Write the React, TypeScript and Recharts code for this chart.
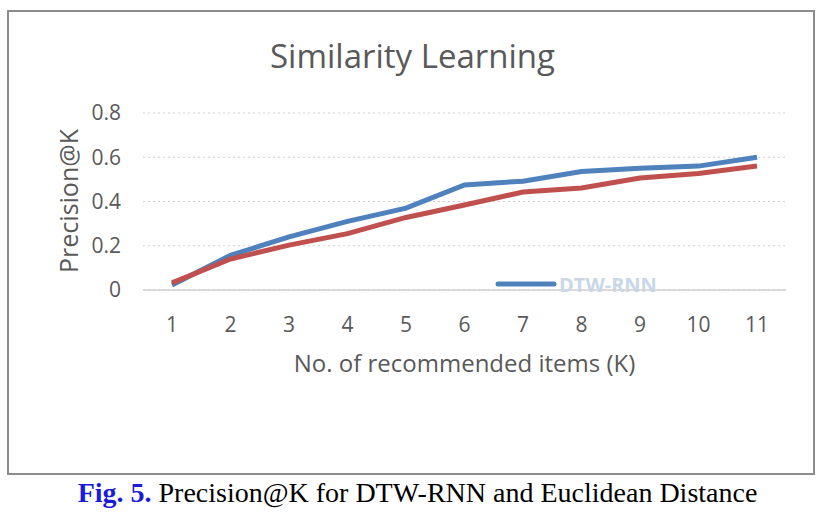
import React from 'react'
import { CartesianGrid, Line, LineChart, ReferenceLine, XAxis, YAxis } from 'recharts'

// Precision@K, K = 1..11
const kValues = [1, 2, 3, 4, 5, 6, 7, 8, 9, 10, 11]
const dtwRnn = [0.023, 0.157, 0.24, 0.31, 0.37, 0.475, 0.492, 0.536, 0.55, 0.56, 0.6]
const euclidean = [0.032, 0.14, 0.203, 0.255, 0.328, 0.384, 0.443, 0.461, 0.506, 0.527, 0.56]
const yTicks = [0, 0.2, 0.4, 0.6, 0.8]

const data = kValues.map((k, i) => ({ k, dtw: dtwRnn[i], euc: euclidean[i] }))

const grey = '#595959'
const font = '"Open Sans", sans-serif'

export default function App() {
  return (
    <div style={{ position: 'absolute', left: 0, top: 0, width: 837, height: 514, background: '#fff' }}>
      <div
        style={{
          position: 'absolute', left: 7, top: 10, width: 808, height: 465,
          border: '2px solid #8c8c8c', boxSizing: 'border-box',
        }}
      />
      <div
        style={{
          position: 'absolute', left: 0, width: 825, top: 33, textAlign: 'center',
          fontFamily: font, fontSize: 33, color: grey,
        }}
      >
        Similarity Learning
      </div>
      <LineChart
        width={837}
        height={514}
        data={data}
        margin={{ top: 113, right: 51, bottom: 194, left: 83 }}
        style={{ position: 'absolute', left: 0, top: 0 }}
      >
        <CartesianGrid vertical={false} stroke="#d0d0d0" strokeDasharray="2 3" />
        <XAxis
          dataKey="k"
          height={30}
          axisLine={false}
          tickLine={false}
          tickSize={0}
          tickMargin={27}
          padding={{ left: 29, right: 29 }}
          tick={{ fill: grey, fontSize: 21, fontFamily: font }}
          interval={0}
        />
        <YAxis
          width={60}
          domain={[0, 0.8]}
          ticks={yTicks}
          axisLine={false}
          tickLine={false}
          tickSize={0}
          tickMargin={22}
          tick={{ fill: grey, fontSize: 21, fontFamily: font }}
        />
        <ReferenceLine y={0} stroke="#d0d0d0" strokeWidth={1.5} />
        <Line dataKey="dtw" name="DTW-RNN" stroke="#4f81bd" strokeWidth={5} dot={false} isAnimationActive={false} />
        <Line dataKey="euc" name="Euclidean Distance" stroke="#c0504d" strokeWidth={5} dot={false} isAnimationActive={false} />
      </LineChart>
      <div style={{ position: 'absolute', left: 495, top: 270, display: 'flex', alignItems: 'center', height: 28 }}>
        <svg width={62} height={10}>
          <line x1={3} y1={5} x2={59} y2={5} stroke="#4f81bd" strokeWidth={5} strokeLinecap="round" />
        </svg>
        <span style={{ fontFamily: font, fontSize: 20, fontWeight: 700, color: '#c9d7e8', marginLeft: 2 }}>
          DTW-RNN
        </span>
      </div>
      <div
        style={{
          position: 'absolute', left: 0, width: 837, top: 346, textAlign: 'center',
          fontFamily: font, fontSize: 24, color: grey, paddingLeft: 92, boxSizing: 'border-box',
        }}
      >
        No. of recommended items (K)
      </div>
      <div
        style={{
          position: 'absolute', left: 68, top: 201, transform: 'translate(-50%, -50%) rotate(-90deg)',
          fontFamily: font, fontSize: 25, color: grey, whiteSpace: 'nowrap',
        }}
      >
        Precision@K
      </div>
      <div
        style={{
          position: 'absolute', left: 0, width: 837, top: 477, textAlign: 'center',
          fontFamily: '"Liberation Serif", "Times New Roman", serif', fontSize: 28, color: '#000', paddingRight: 2,
          boxSizing: 'border-box',
        }}
      >
        <b style={{ color: '#1a1adb' }}>Fig. 5.</b> Precision@K for DTW-RNN and Euclidean Distance
      </div>
    </div>
  )
}
